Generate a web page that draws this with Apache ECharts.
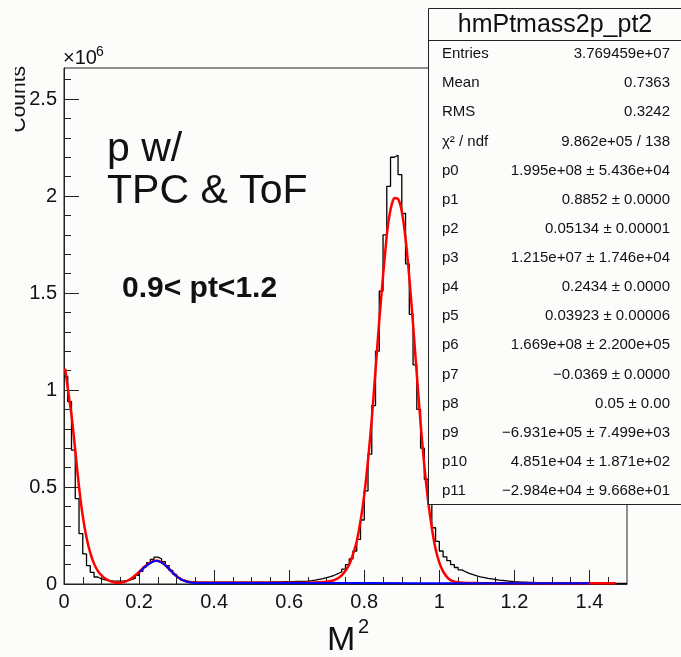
<!DOCTYPE html>
<html>
<head>
<meta charset="utf-8">
<script src="https://cdn.jsdelivr.net/npm/echarts@6/dist/echarts.min.js"></script>
<style>
html,body{margin:0;padding:0;background:#fcfcfa;}
#chart{width:681px;height:657px;}
</style>
</head>
<body>
<div id="chart"></div>
<script>
// histogram: 150 bins of 0.01 from 0 to 1.5, counts in units of 1e6
var binLo = 0, binWidth = 0.01;
var counts = [
  1.07, 0.94, 0.69, 0.44, 0.26, 0.155, 0.095, 0.06, 0.036, 0.026,
  0.021, 0.018, 0.016, 0.015, 0.015, 0.016, 0.018, 0.022, 0.03, 0.045,
  0.065, 0.088, 0.11, 0.127, 0.139, 0.13, 0.115, 0.095, 0.07, 0.05,
  0.033, 0.021, 0.015, 0.012, 0.011, 0.010, 0.010, 0.010, 0.010, 0.010,
  0.010, 0.010, 0.010, 0.010, 0.010, 0.010, 0.010, 0.010, 0.010, 0.010,
  0.010, 0.010, 0.010, 0.010, 0.010, 0.011, 0.011, 0.011, 0.012, 0.012,
  0.012, 0.013, 0.013, 0.014, 0.015, 0.017, 0.020, 0.024, 0.028, 0.033,
  0.038, 0.045, 0.053, 0.063, 0.077, 0.10, 0.13, 0.17, 0.23, 0.33,
  0.48, 0.67, 0.92, 1.20, 1.51, 1.80, 2.05, 2.20, 2.21, 2.11,
  1.91, 1.65, 1.39, 1.13, 0.90, 0.70, 0.54, 0.41, 0.29, 0.22,
  0.17, 0.14, 0.12, 0.10, 0.085, 0.073, 0.063, 0.055, 0.048, 0.042,
  0.037, 0.033, 0.029, 0.026, 0.023, 0.020, 0.018, 0.016, 0.014, 0.012,
  0.011, 0.010, 0.009, 0.008, 0.008, 0.007, 0.007, 0.006, 0.006, 0.006,
  0.005, 0.005, 0.005, 0.005, 0.005, 0.004, 0.004, 0.004, 0.004, 0.004,
  0.004, 0.004, 0.004, 0.003, 0.003, 0.003, 0.003, 0.003, 0.003, 0.003
];

// total fit (red)
var fitX = [0.003,0.01,0.02,0.03,0.04,0.05,0.06,0.07,0.08,0.09,0.10,0.11,0.12,0.13,0.14,0.15,0.16,0.17,0.18,0.19,
  0.20,0.21,0.22,0.23,0.24,0.25,0.26,0.27,0.28,0.29,0.30,0.31,0.32,0.33,0.35,0.45,0.60,0.65,0.68,0.70,
  0.72,0.74,0.76,0.78,0.80,0.82,0.84,0.86,0.87,0.88,0.89,0.90,0.91,0.92,0.93,0.94,0.95,0.96,0.97,0.98,
  0.99,1.00,1.01,1.02,1.03,1.04,1.06,1.10,1.47];
var fitY = [1.11,1.01,0.87,0.69,0.50,0.35,0.24,0.16,0.105,0.068,0.045,0.028,0.017,0.010,0.007,0.007,0.010,0.018,0.030,0.045,
  0.062,0.080,0.097,0.110,0.120,0.120,0.112,0.097,0.078,0.058,0.040,0.026,0.017,0.011,0.007,0.006,0.006,0.007,0.009,0.012,
  0.020,0.045,0.10,0.22,0.46,0.85,1.36,1.80,1.93,1.99,1.985,1.92,1.78,1.58,1.34,1.08,0.83,0.61,0.43,0.29,
  0.18,0.11,0.065,0.037,0.020,0.012,0.007,0.005,0.004];

// background + second peak component (blue)
var bkgX = [0.20,0.21,0.22,0.23,0.24,0.245,0.25,0.26,0.27,0.28,0.29,0.30,0.31,0.32,0.33,0.34,0.36,0.50,0.80,1.10,1.40];
var bkgY = [0.060,0.078,0.095,0.108,0.117,0.119,0.118,0.110,0.096,0.077,0.057,0.040,0.026,0.016,0.010,0.007,0.005,0.005,0.005,0.004,0.004];

var xMajor = [0, 0.2, 0.4, 0.6, 0.8, 1, 1.2, 1.4];
var xMinor = [0.05,0.1,0.15,0.25,0.3,0.35,0.45,0.5,0.55,0.65,0.7,0.75,0.85,0.9,0.95,1.05,1.1,1.15,1.25,1.3,1.35,1.45];
var yMajor = [0, 0.5, 1, 1.5, 2, 2.5];
var yMinor = [0.1,0.2,0.3,0.4,0.6,0.7,0.8,0.9,1.1,1.2,1.3,1.4,1.6,1.7,1.8,1.9,2.1,2.2,2.3,2.4,2.6];

var statLabels = ['Entries','Mean','RMS','\u03c7\u00b2 / ndf','p0','p1','p2','p3','p4','p5','p6','p7','p8','p9','p10','p11'];
var statValues = ['3.769459e+07','0.7363','0.3242','9.862e+05 / 138',
  '1.995e+08 \u00b1 5.436e+04','0.8852 \u00b1 0.0000','0.05134 \u00b1 0.00001','1.215e+07 \u00b1 1.746e+04',
  '0.2434 \u00b1 0.0000','0.03923 \u00b1 0.00006','1.669e+08 \u00b1 2.200e+05','\u22120.0369 \u00b1 0.0000',
  '0.05 \u00b1 0.00','\u22126.931e+05 \u00b1 7.499e+03','4.851e+04 \u00b1 1.871e+02','\u22122.984e+04 \u00b1 9.668e+01'];

var FONT = '"Liberation Sans", Arial, Helvetica, sans-serif';
var BG = '#fcfcfa';

var histData = counts.map(function (v, i) { return [binLo + i * binWidth, v]; });
histData.push([binLo + counts.length * binWidth, counts[counts.length - 1]]);
var fitData = fitX.map(function (x, i) { return [x, fitY[i]]; });
var bkgData = bkgX.map(function (x, i) { return [x, bkgY[i]]; });

var chart = echarts.init(document.getElementById('chart'));

var graphics = [
  { type: 'text', x: 63, y: 68, style: { text: '\u00d710', font: '20px ' + FONT, fill: '#111', textVerticalAlign: 'bottom' } },
  { type: 'text', x: 96, y: 59, style: { text: '6', font: '14px ' + FONT, fill: '#111', textVerticalAlign: 'bottom' } },
  { type: 'text', x: 30, y: 66, rotation: Math.PI / 2, style: { text: 'Counts', font: '21px ' + FONT, fill: '#111', textAlign: 'right', textVerticalAlign: 'bottom' } },
  // the reference cuts the axis title on its left side
  { type: 'rect', shape: { x: 0, y: 60, width: 15, height: 80 }, style: { fill: BG } },
  { type: 'text', x: 107, y: 170, style: { text: 'p w/', font: '41px ' + FONT, fill: '#111', textVerticalAlign: 'bottom' } },
  { type: 'text', x: 107, y: 212, style: { text: 'TPC & ToF', font: '41px ' + FONT, fill: '#111', textVerticalAlign: 'bottom' } },
  { type: 'text', x: 122, y: 304, style: { text: '0.9< pt<1.2', font: 'bold 30px ' + FONT, fill: '#111', textVerticalAlign: 'bottom' } },
  { type: 'text', x: 327, y: 658, style: { text: 'M', font: '34px ' + FONT, fill: '#111', textVerticalAlign: 'bottom' } },
  { type: 'text', x: 358, y: 637, style: { text: '2', font: '20px ' + FONT, fill: '#111', textVerticalAlign: 'bottom' } },
  // stat box
  { type: 'rect', z: 100, shape: { x: 428.5, y: 8.5, width: 270, height: 496 }, style: { fill: BG, stroke: '#222', lineWidth: 1 } },
  { type: 'line', z: 101, shape: { x1: 428.5, y1: 40.5, x2: 681, y2: 40.5 }, style: { stroke: '#222', lineWidth: 1 } },
  { type: 'text', z: 101, x: 555, y: 25, style: { text: 'hmPtmass2p_pt2', font: '25px ' + FONT, fill: '#111', textAlign: 'center', textVerticalAlign: 'middle' } }
];
statLabels.forEach(function (lab, i) {
  var yc = 54 + i * 29.13;
  graphics.push({ type: 'text', z: 101, x: 442, y: yc, style: { text: lab, font: '15px ' + FONT, fill: '#111', textVerticalAlign: 'middle' } });
  graphics.push({ type: 'text', z: 101, x: 670, y: yc, style: { text: statValues[i], font: '15px ' + FONT, fill: '#111', textAlign: 'right', textVerticalAlign: 'middle' } });
});

var option = {
  backgroundColor: BG,
  animation: false,
  grid: { left: 64, right: 54, top: 68, bottom: 73, show: true, borderColor: '#222', borderWidth: 1, backgroundColor: 'transparent' },
  xAxis: [
    {
      type: 'value', min: 0, max: 1.5, position: 'bottom',
      axisLine: { show: true, onZero: false, lineStyle: { color: '#222', width: 1 } },
      axisTick: { show: true, inside: true, length: 14, customValues: xMajor, lineStyle: { color: '#222' } },
      axisLabel: { show: true, customValues: xMajor, margin: 8, color: '#111', fontSize: 20, fontFamily: FONT },
      splitLine: { show: false }
    },
    {
      type: 'value', min: 0, max: 1.5, position: 'bottom',
      axisLine: { show: false },
      axisTick: { show: true, inside: true, length: 7, customValues: xMinor, lineStyle: { color: '#222' } },
      axisLabel: { show: false },
      splitLine: { show: false }
    }
  ],
  yAxis: [
    {
      type: 'value', min: 0, max: 2.66, position: 'left',
      axisLine: { show: true, onZero: false, lineStyle: { color: '#222', width: 1 } },
      axisTick: { show: true, inside: true, length: 15, customValues: yMajor, lineStyle: { color: '#222' } },
      axisLabel: { show: true, customValues: yMajor, margin: 7, color: '#111', fontSize: 20, fontFamily: FONT },
      splitLine: { show: false }
    },
    {
      type: 'value', min: 0, max: 2.66, position: 'left',
      axisLine: { show: false },
      axisTick: { show: true, inside: true, length: 7, customValues: yMinor, lineStyle: { color: '#222' } },
      axisLabel: { show: false },
      splitLine: { show: false }
    }
  ],
  series: [
    {
      name: 'hist', type: 'line', step: 'end', data: histData, showSymbol: false,
      xAxisIndex: 0, yAxisIndex: 0,
      lineStyle: { color: '#000', width: 1.3 }
    },
    {
      name: 'fit', type: 'line', data: fitData, showSymbol: false, smooth: 0.2,
      xAxisIndex: 0, yAxisIndex: 0,
      lineStyle: { color: '#ff0000', width: 2.5 }
    },
    {
      name: 'bkg', type: 'line', data: bkgData, showSymbol: false, smooth: 0.2,
      xAxisIndex: 0, yAxisIndex: 0,
      lineStyle: { color: '#0000ff', width: 2 }
    }
  ],
  graphic: graphics
};
chart.setOption(option);
</script>
</body>
</html>
